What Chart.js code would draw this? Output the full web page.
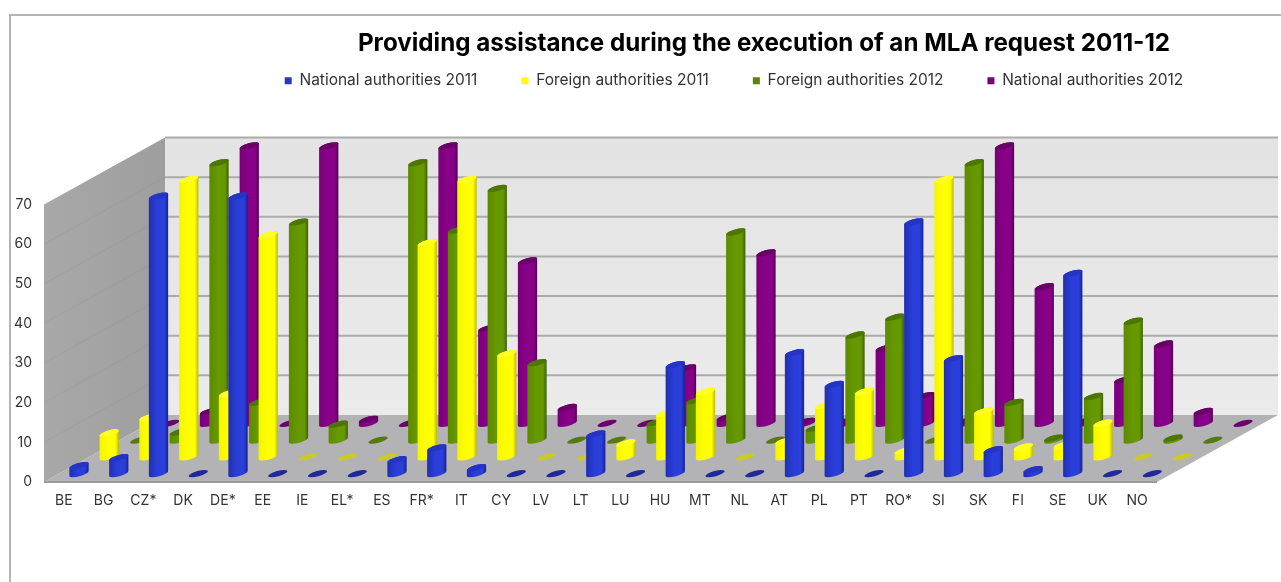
<!DOCTYPE html>
<html><head><meta charset="utf-8">
<style>html,body{margin:0;padding:0;background:#fff}#w{width:1281px;height:582px;position:relative}</style>
<script src="https://cdn.jsdelivr.net/npm/chart.js@4"></script>
</head><body><div id="w"><canvas id="c" width="1281" height="582"></canvas></div>
<script>
const categories = ["BE","BG","CZ*","DK","DE*","EE","IE","EL*","ES","FR*","IT","CY","LV","LT","LU","HU","MT","NL","AT","PL","PT","RO*","SI","SK","FI","SE","UK","NO"];
const national2011 = [2,4,70,0,70,0,0,0,3.5,6.5,1.5,0,0,10,0,27.5,0,0,30.5,22.5,0,63.5,29,6,1,50.5,0,0];
const foreign2011  = [6,10,70,16,56,0,0,0,54,70,26,0,0,3.5,11,16.5,0,4,13,16.5,1.5,70,11.5,2.5,3,8.5,0,0];
const foreign2012  = [0,2,70,9.5,55,4,0,70,53,63.5,19.5,0,0,4.5,10,52.5,0,3,26.5,31,0,70,9.5,0.5,11,30,0.5,0];
const national2012 = [0,3,70,0,70,1,0,70,24,41,4,0,0,14,1.5,43,0.5,0.5,19,7,0.5,70,34.5,0.5,11,20,3,0];
const yTicks = [0,10,20,30,40,50,60,70];
const seriesNames = ["National authorities 2011","Foreign authorities 2011","Foreign authorities 2012","National authorities 2012"];

const FONT = "Inter, Lato, 'Liberation Sans', sans-serif";
const DEPTH_X = 121, DEPTH_Y = 67;
const looks = [
 {left:"#1f2fae",mid:"#2a3eda",right:"#141f8c",cap:"#2634c4",flat:"#20289c"},
 {left:"#f4f400",mid:"#ffff00",right:"#b4b400",cap:"#ffff24",flat:"#c9c92a"},
 {left:"#5c8a00",mid:"#669800",right:"#3c5a00",cap:"#4d7600",flat:"#567a10"},
 {left:"#780078",mid:"#880088",right:"#4e004e",cap:"#680068",flat:"#6c006c"}
];
function drawCylinder(ctx, el, look){
  const x=el.x, top=el.y, base=el.base, rx=el.width/2+0.5, ry=2.7, rot=-0.27;
  if (base-top < 1.5){
    ctx.fillStyle=look.flat; ctx.beginPath(); ctx.ellipse(x,base,rx,ry,rot,0,Math.PI*2); ctx.fill(); return;
  }
  const g=ctx.createLinearGradient(x-rx,0,x+rx,0);
  g.addColorStop(0,look.left); g.addColorStop(0.45,look.mid); g.addColorStop(0.8,look.mid); g.addColorStop(1,look.right);
  ctx.fillStyle=g; ctx.beginPath();
  ctx.ellipse(x,base,rx,ry,rot,0,Math.PI);
  ctx.ellipse(x,top,rx,ry,rot,Math.PI,Math.PI*2);
  ctx.closePath(); ctx.fill();
  ctx.fillStyle=look.cap; ctx.beginPath(); ctx.ellipse(x,top,rx,ry,rot,0,Math.PI*2); ctx.fill();
}
const scene3d = {
  id:"scene3d",
  afterLayout(chart){
    const t=chart.titleBlock, l=chart.legend;
    const tdx=764-(t.left+t.right)/2, ldx=734-(l.left+l.right)/2;
    t.left+=tdx; t.right+=tdx; l.left+=ldx; l.right+=ldx;
    const th=t.bottom-t.top; t.top=29; t.bottom=29+th;
    const lh=l.bottom-l.top; l.top=29; l.bottom=29+lh;
  },
  afterDatasetUpdate(chart,{index,meta}){
    meta.data.forEach(el=>{ el.draw=function(ctx){ drawCylinder(ctx,this,looks[index]); }; });
  },
  beforeDatasetsDraw(chart){
    const {ctx,scales:{y},chartArea:a}=chart;
    const y0=y.getPixelForValue(0), yT=y.getPixelForValue(70), bx=a.left+DEPTH_X, by0=y0-DEPTH_Y, byT=yT-DEPTH_Y, R=a.right+DEPTH_X;
    ctx.save();
    // frame
    ctx.strokeStyle="#b4b4b4"; ctx.lineWidth=2;
    ctx.beginPath(); ctx.moveTo(10,582); ctx.lineTo(10,15); ctx.lineTo(1281,15); ctx.stroke();
    // back wall
    const wg=ctx.createLinearGradient(0,byT,0,by0); wg.addColorStop(0,"#e3e3e3"); wg.addColorStop(1,"#ebebeb");
    ctx.fillStyle=wg; ctx.fillRect(bx,byT,R-bx,by0-byT);
    ctx.strokeStyle="#ababab"; ctx.lineWidth=2;
    yTicks.slice(1).forEach(v=>{const p=y.getPixelForValue(v)-DEPTH_Y; ctx.beginPath(); ctx.moveTo(bx,p); ctx.lineTo(R,p); ctx.stroke();});
    // left wall
    const lg=ctx.createLinearGradient(a.left,0,bx,0); lg.addColorStop(0,"#a8a8a8"); lg.addColorStop(1,"#9e9e9e");
    ctx.fillStyle=lg; ctx.beginPath(); ctx.moveTo(a.left,y0); ctx.lineTo(bx,by0); ctx.lineTo(bx,byT); ctx.lineTo(a.left,yT); ctx.closePath(); ctx.fill();
    ctx.strokeStyle="rgba(120,120,120,.15)"; ctx.lineWidth=1;
    yTicks.slice(1,-1).forEach(v=>{const p=y.getPixelForValue(v); ctx.beginPath(); ctx.moveTo(a.left,p); ctx.lineTo(bx,p-DEPTH_Y); ctx.stroke();});
    // floor
    ctx.fillStyle="#b3b3b6"; ctx.beginPath(); ctx.moveTo(a.left,y0); ctx.lineTo(a.right,y0); ctx.lineTo(R,by0); ctx.lineTo(bx,by0); ctx.closePath(); ctx.fill();
    ctx.strokeStyle="#9a9a9a"; ctx.lineWidth=2; ctx.beginPath(); ctx.moveTo(a.left,y0); ctx.lineTo(a.right,y0); ctx.stroke();
    ctx.restore();
  },
  beforeDatasetDraw(chart,{index}){
    const c=chart.ctx; c.save();
    c.translate(DEPTH_X/8+index*DEPTH_X/4, -(DEPTH_Y/8+index*DEPTH_Y/4));
  },
  afterDatasetDraw(chart){ chart.ctx.restore(); }
};
const rows=[national2011,foreign2011,foreign2012,national2012];
const solid=["#2a38c0","#ffff00","#5c8400","#7a007a"];
new Chart(document.getElementById("c"),{
  type:"bar",
  data:{labels:categories,datasets:rows.map((d,i)=>({label:seriesNames[i],data:d,backgroundColor:solid[i],grouped:false,barThickness:19,clip:false}))},
  plugins:[scene3d],
  options:{
    responsive:false,animation:false,
    layout:{padding:{left:0,right:124,top:100,bottom:0}},
    plugins:{
      title:{display:true,text:"Providing assistance during the execution of an MLA request 2011-12",color:"#000",font:{family:FONT,size:24.2,weight:"bold"},padding:{top:0,bottom:6}},
      legend:{display:true,position:"top",labels:{color:"#333",font:{family:FONT,size:15.5},boxWidth:7,boxHeight:7,padding:44}},
      tooltip:{enabled:false}
    },
    scales:{
      x:{grid:{display:false},border:{display:false},ticks:{color:"#333",font:{family:FONT,size:14},maxRotation:0,autoSkip:false,padding:2},
         afterFit(s){s.height=100;}},
      y:{min:0,max:70,grid:{display:false},border:{display:false},ticks:{stepSize:10,color:"#333",font:{family:FONT,size:14},padding:4},
         afterFit(s){s.width=44;}}
    }
  }
});
</script></body></html>
